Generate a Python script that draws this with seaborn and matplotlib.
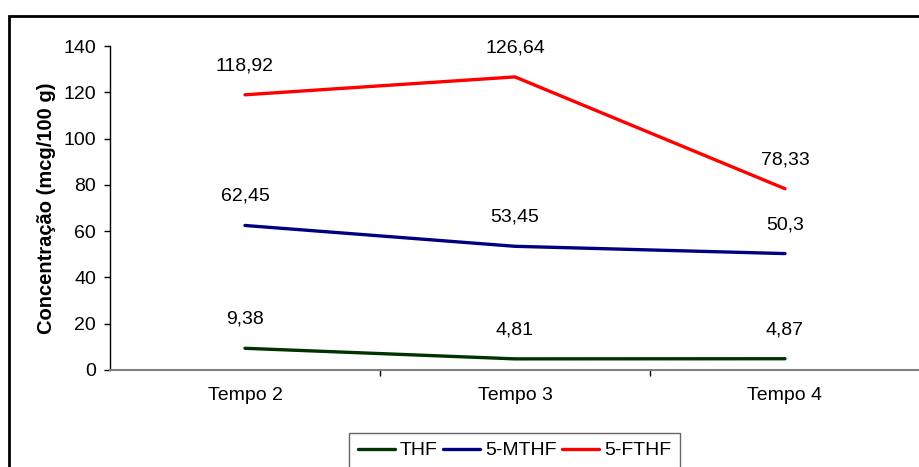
import matplotlib
matplotlib.use("Agg")
import matplotlib.pyplot as plt
import seaborn as sns
import pandas as pd
from matplotlib.patches import Rectangle
from matplotlib.ticker import FixedLocator

categories = ["Tempo 2", "Tempo 3", "Tempo 4"]
series_names = ["THF", "5-MTHF", "5-FTHF"]
thf = [9.38, 4.81, 4.87]
mthf = [62.45, 53.45, 50.3]
fthf = [118.92, 126.64, 78.33]
labels_thf = ["9,38", "4,81", "4,87"]
labels_mthf = ["62,45", "53,45", "50,3"]
labels_fthf = ["118,92", "126,64", "78,33"]
colors = ["#003300", "#000080", "#FF0000"]

rows = []
for name, vals in zip(series_names, [thf, mthf, fthf]):
    for c, v in zip(categories, vals):
        rows.append({"Tempo": c, "Valor": v, "Serie": name})
df = pd.DataFrame(rows)

sns.set_style("white")
plt.rcParams["font.family"] = ["Liberation Sans", "DejaVu Sans"]
plt.rcParams["text.color"] = "black"
plt.rcParams["axes.labelcolor"] = "black"
plt.rcParams["xtick.labelcolor"] = "black"
plt.rcParams["ytick.labelcolor"] = "black"

FS = 14
fig = plt.figure(figsize=(9.2, 4.67), dpi=100)
W, H = 920, 467
ax = fig.add_axes([110 / W, 1 - 370 / H, 810 / W, (370 - 46) / H])

sns.lineplot(data=df, x="Tempo", y="Valor", hue="Serie", palette=colors,
             hue_order=series_names, sort=False, linewidth=2.4, ax=ax,
             legend=False)

for vals, labs in zip([thf, mthf, fthf], [labels_thf, labels_mthf, labels_fthf]):
    for i, (v, l) in enumerate(zip(vals, labs)):
        ax.annotate(l, (i, v), xytext=(0, 29), textcoords="offset pixels",
                    ha="center", va="center", fontsize=FS, color="black")

ax.set_xlim(-0.5, 2.5)
ax.set_ylim(0, 140)
ax.set_yticks(range(0, 141, 20))
ax.tick_params(axis="y", labelsize=FS, length=4, width=1, color="black",
               labelcolor="black", direction="out", left=True, pad=6)
ax.tick_params(axis="x", which="major", length=0, labelsize=FS, pad=12,
               labelcolor="black")
ax.xaxis.set_minor_locator(FixedLocator([0.5, 1.5]))
ax.tick_params(axis="x", which="minor", length=4, width=1, color="black",
               direction="out", bottom=True)
ax.set_xlabel("")
ax.set_ylabel("Concentração (mcg/100 g)", fontsize=14.5, fontweight="bold",
              labelpad=5, color="black")
for s in ["top", "right"]:
    ax.spines[s].set_visible(False)
ax.spines["left"].set_color("black")
ax.spines["left"].set_linewidth(1)
ax.spines["bottom"].set_color("#808080")
ax.spines["bottom"].set_linewidth(1.5)
ax.patch.set_alpha(0)

handles = [plt.Line2D([], [], color=c, linewidth=2.4) for c in colors]
leg = fig.legend(handles, series_names, loc="upper left",
                 bbox_to_anchor=(349 / W, 1 - 433 / H), ncol=3,
                 frameon=True, fancybox=False, fontsize=FS,
                 handlelength=1.9, handletextpad=0.25, columnspacing=0.3,
                 borderpad=0.45, borderaxespad=0)
leg.get_frame().set_edgecolor("#404040")
leg.get_frame().set_linewidth(1)

fig.patches.append(Rectangle((9 / W, -0.1), 1.2, 1 - 16 / H + 0.1,
                             transform=fig.transFigure, fill=False,
                             edgecolor="black", linewidth=2, zorder=0))

fig.savefig("out.png", dpi=100)
